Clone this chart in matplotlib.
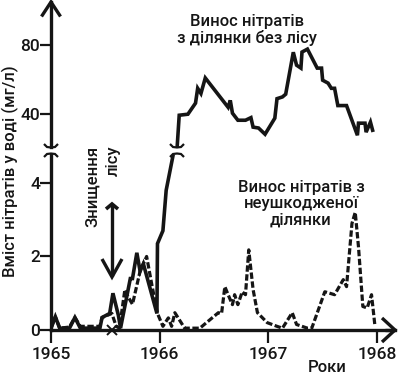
import matplotlib
matplotlib.use("Agg")
import matplotlib.pyplot as plt
from matplotlib.lines import Line2D

plt.rcParams['font.family'] = ['Roboto', 'Liberation Sans', 'DejaVu Sans']
plt.rcParams['font.weight'] = 'medium'

# ------------------- data (year, nitrate mg/l) ------------------------- #
# catchment after forest removal (solid line)
cut_x = [1965.00, 1965.04, 1965.08, 1965.17, 1965.22, 1965.27, 1965.45, 1965.47,
         1965.54, 1965.57, 1965.62, 1965.64, 1965.73, 1965.75, 1965.79, 1965.82,
         1965.85, 1965.975, 1965.98, 1966.03, 1966.06, 1966.08, 1966.14, 1966.16,
         1966.18, 1966.26, 1966.33, 1966.35, 1966.38, 1966.42, 1966.63, 1966.65,
         1966.67, 1966.72, 1966.79, 1966.84, 1966.86, 1966.91, 1966.97, 1967.06,
         1967.08, 1967.13, 1967.16, 1967.23, 1967.26, 1967.30, 1967.31, 1967.36,
         1967.45, 1967.49, 1967.50, 1967.55, 1967.58, 1967.61, 1967.64, 1967.72,
         1967.82, 1967.83, 1967.89, 1967.90, 1967.94, 1967.96]
cut_y = [0.05, 0.36, 0.05, 0.05, 0.34, 0.05, 0.05, 0.34,
         0.45, 1.00, 0.40, 0.05, 1.40, 1.40, 2.10, 1.60,
         1.80, 0.45, 2.35, 2.70, 3.80, 4.10, 5.00, 20.0,
         39.4, 40.0, 46.4, 55.0, 52.0, 61.0, 44.0, 48.0,
         40.6, 36.5, 36.5, 38.0, 32.5, 32.0, 28.4, 37.7,
         49.0, 50.0, 51.6, 75.9, 68.4, 66.7, 76.0, 77.7,
         66.7, 66.7, 59.7, 58.0, 55.0, 55.0, 45.0, 45.0,
         27.8, 34.8, 34.8, 29.6, 35.4, 30.7]

# undisturbed catchment (dashed line)
ref_x = [1965.00, 1965.04, 1965.08, 1965.17, 1965.22, 1965.27, 1965.45, 1965.47,
         1965.52, 1965.56, 1965.60, 1965.63, 1965.68, 1965.71, 1965.75, 1965.82,
         1965.88, 1965.93, 1965.98, 1966.03, 1966.08, 1966.11, 1966.14, 1966.23,
         1966.37, 1966.54, 1966.57, 1966.60, 1966.63, 1966.67, 1966.69, 1966.72,
         1966.76, 1966.79, 1966.82, 1966.86, 1966.90, 1966.99, 1967.08, 1967.13,
         1967.22, 1967.26, 1967.36, 1967.40, 1967.52, 1967.61, 1967.69, 1967.72,
         1967.77, 1967.80, 1967.83, 1967.87, 1967.91, 1967.95, 1967.98]
ref_y = [0.05, 0.36, 0.05, 0.08, 0.34, 0.10, 0.10, 0.34,
         0.40, 0.45, 0.10, 0.05, 1.10, 0.90, 0.70, 1.60,
         2.00, 1.20, 0.45, 0.10, 0.33, 0.10, 0.47, 0.05,
         0.05, 0.47, 0.45, 1.18, 0.96, 0.69, 0.96, 0.69,
         1.04, 0.96, 2.18, 1.10, 0.47, 0.20, 0.10, 0.05,
         0.47, 0.15, 0.05, 0.05, 1.04, 0.96, 1.37, 1.18,
         2.90, 3.20, 2.26, 0.64, 0.60, 0.96, 0.15]

year_ticks = [1965, 1966, 1967, 1968]
low_ticks = [0, 2, 4]
high_ticks = [40, 80]
felling_year = 1965.565

# ------------------- layout (pixels) ----------------------------------- #
W, H = 400, 376
AX_L, AX_R = 51, 395
LO_BOT, LO_TOP = 330, 155
HI_BOT, HI_TOP = 147, 2
INK = "#151515"
FS = 12.5      # tick labels
FS_TXT = 12    # annotations and axis titles


def fx(x):
    return x / W


def fy(y):
    return 1 - y / H


def fig_line(xs, ys, lw=2.4):
    fig.add_artist(Line2D([fx(x) for x in xs], [fy(y) for y in ys],
                          transform=fig.transFigure, color=INK, lw=lw,
                          solid_capstyle="butt", solid_joinstyle="miter"))


fig = plt.figure(figsize=(W / 100, H / 100), dpi=100)
ax_lo = fig.add_axes([fx(AX_L), fy(LO_BOT), (AX_R - AX_L) / W, (LO_BOT - LO_TOP) / H])
ax_hi = fig.add_axes([fx(AX_L), fy(HI_BOT), (AX_R - AX_L) / W, (HI_BOT - HI_TOP) / H])

for ax in (ax_lo, ax_hi):
    ax.set_xlim(1965.0, 1968.166)
    ax.patch.set_visible(False)
    ax.spines["top"].set_visible(False)
    ax.spines["right"].set_visible(False)
    ax.spines["left"].set_linewidth(2.4)
    ax.spines["left"].set_color(INK)
    ax.plot(cut_x, cut_y, color=INK, lw=2.6, solid_joinstyle="miter")
    ax.plot(ref_x, ref_y, color=INK, lw=2.3, ls=(0, (2.0, 0.8)))
    ax.tick_params(axis="y", direction="out", length=8, width=1.6,
                   labelsize=FS, pad=0, colors=INK)

ax_lo.set_ylim(0, 4.76)
ax_lo.set_yticks(low_ticks)
ax_lo.set_xticks(year_ticks)
ax_lo.spines["bottom"].set_linewidth(2.4)
ax_lo.spines["bottom"].set_color(INK)
ax_lo.tick_params(axis="x", direction="out", length=9, width=1.6,
                  labelsize=FS, pad=3, colors=INK)

ax_hi.set_ylim(21, 105)
ax_hi.set_yticks(high_ticks)
ax_hi.set_xticks([])
ax_hi.spines["bottom"].set_visible(False)

# felling marker on the time axis
ax_lo.plot([felling_year], [0], marker="x", ms=7, mew=1.4, color=INK, clip_on=False)

# felling arrow: tail bracket, shaft, open head
fig_line([106, 112, 118], [209, 204, 209], lw=2.6)
fig_line([112, 112], [204, 276])
fig_line([102, 112, 122], [259, 277, 259])

# axis arrows
fig_line([41.5, 51, 60.5], [16.5, 2, 16.5])
fig_line([382, 395, 382], [318, 330, 342])
fig_line([AX_R - 10, AX_R], [330, 330])

# break marks on the y axis and on the solid line
for cx in (51, 177):
    fig_line([cx - 7, cx - 4, cx, cx + 4, cx + 7], [144, 147, 147.5, 147, 144], lw=1.6)
    fig_line([cx - 7, cx - 4, cx, cx + 4, cx + 7], [157, 154, 153.5, 154, 157], lw=1.6)

# texts
fig.text(fx(247), fy(30), "Винос нітратів\nз ділянки без лісу", ha="center",
         va="center", fontsize=FS_TXT, color=INK, linespacing=1.15)
fig.text(fx(301), fy(204), "Винос нітратів з\nнеушкодженої\nділянки", ha="center",
         va="center", fontsize=FS_TXT, color=INK, linespacing=1.1)
fig.text(fx(103), fy(186), "Знищення\nлісу", ha="center", va="center",
         rotation=90, multialignment="right", fontsize=FS_TXT, color=INK,
         linespacing=1.45)
fig.text(fx(327), fy(367), "Роки", ha="center", va="center", fontsize=FS_TXT, color=INK)
fig.text(fx(10), fy(171), "Вміст нітратів у воді (мг/л)", ha="center", va="center",
         rotation=90, fontsize=FS_TXT, color=INK)

fig.savefig("out.png", dpi=100)
